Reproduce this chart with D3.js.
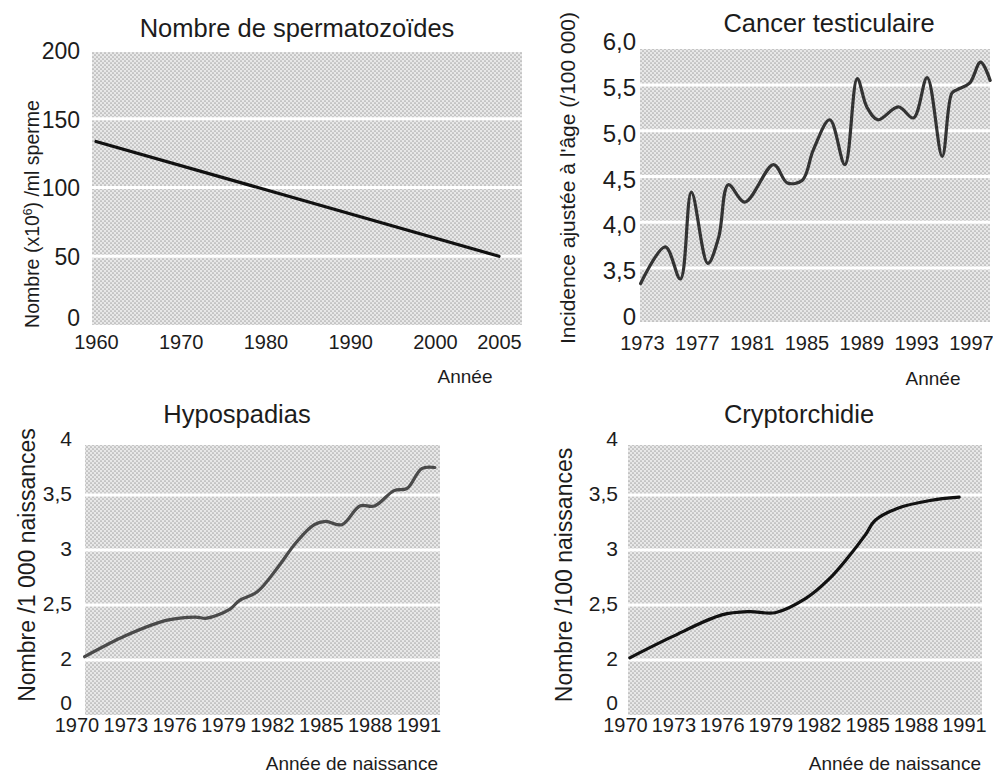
<!DOCTYPE html>
<html>
<head>
<meta charset="utf-8">
<script src="https://cdn.jsdelivr.net/npm/d3@7/dist/d3.min.js"></script>
<style>
  html, body { margin: 0; padding: 0; background: #fff; }
  svg { display: block; }
</style>
</head>
<body>
<svg id="chart" width="993" height="776"></svg>
<script>
// ---------- DATA ----------
// Panel 1 : Nombre de spermatozoïdes
const spermYears = [1960, 2005];
const spermCounts = [133.5, 50];
const spermXTicks = [1960, 1970, 1980, 1990, 2000, 2005];
const spermYTicks = [0, 50, 100, 150, 200];
const spermYLabels = ["0", "50", "100", "150", "200"];
const spermGrid = [50, 100, 150];

// Panel 2 : Cancer testiculaire (axis broken: bottom "0" stands for 3.0)
const cancerYears = [1972.9, 1974.7, 1975.8, 1976.6, 1977.8, 1978.6, 1979.3, 1980.5, 1982.6, 1983.6,
                     1984.7, 1985.5, 1986.7, 1987.8, 1988.7, 1989.4, 1990.2, 1991.7, 1992.8, 1993.8,
                     1994.9, 1995.6, 1996.0, 1996.9, 1997.7, 1998.4];
const cancerRates = [3.33, 3.73, 3.38, 4.33, 3.55, 3.84, 4.41, 4.22, 4.63, 4.43,
                     4.46, 4.79, 5.12, 4.63, 5.57, 5.26, 5.12, 5.26, 5.14, 5.58,
                     4.72, 5.41, 5.45, 5.52, 5.75, 5.55];
const cancerXTicks = [1973, 1977, 1981, 1985, 1989, 1993, 1997];
const cancerYTicks = [3, 3.5, 4, 4.5, 5, 5.5, 6];
const cancerYLabels = ["0", "3,5", "4,0", "4,5", "5,0", "5,5", "6,0"];
const cancerGrid = [3.5, 4, 4.5, 5, 5.5];

// Panel 3 : Hypospadias (axis broken: bottom "0" stands for 1.5)
const hypoYears = [1970.5, 1973.0, 1975.5, 1977.3, 1978.0, 1979.4, 1980.0, 1981.1, 1982.3, 1983.5,
                   1984.6, 1985.3, 1986.3, 1987.4, 1988.3, 1989.5, 1990.3, 1991.2, 1992.0];
const hypoRates = [2.03, 2.22, 2.36, 2.39, 2.38, 2.46, 2.54, 2.62, 2.83, 3.07,
                   3.23, 3.26, 3.23, 3.40, 3.40, 3.54, 3.56, 3.74, 3.75];

// Panel 4 : Cryptorchidie
const cryptoYears = [1970.3, 1972.9, 1976.0, 1977.7, 1979.3, 1981.2, 1982.6, 1983.8, 1984.9, 1985.5,
                     1986.9, 1988.9, 1990.7];
const cryptoRates = [2.02, 2.21, 2.41, 2.44, 2.43, 2.56, 2.73, 2.93, 3.14, 3.27,
                     3.38, 3.45, 3.48];

const birthXTicks = [1970, 1973, 1976, 1979, 1982, 1985, 1988, 1991];
const birthYTicks = [1.5, 2, 2.5, 3, 3.5, 4];
const birthYLabels = ["0", "2", "2,5", "3", "3,5", "4"];
const birthGrid = [2, 2.5, 3, 3.5];

// ---------- DRAWING ----------
const FONT = "'Liberation Sans', Arial, Helvetica, sans-serif";
const INK = "#1c1c1c";
const svg = d3.select("#chart");

const defs = svg.append("defs");
const pat = defs.append("pattern").attr("id", "stip")
  .attr("width", 4).attr("height", 4).attr("patternUnits", "userSpaceOnUse");
pat.append("rect").attr("width", 4).attr("height", 4).attr("fill", "#e8e8e8");
pat.append("circle").attr("cx", 1).attr("cy", 1).attr("r", 0.85).attr("fill", "#a8a8a8");
pat.append("circle").attr("cx", 3).attr("cy", 3).attr("r", 0.85).attr("fill", "#a8a8a8");

function panel(o) {
  const g = svg.append("g");
  g.append("rect")
    .attr("x", o.left).attr("y", o.top)
    .attr("width", o.right - o.left).attr("height", o.bottom - o.top)
    .attr("fill", "url(#stip)");

  g.selectAll("line.grid").data(o.grid).join("line")
    .attr("class", "grid")
    .attr("x1", o.left).attr("x2", o.right)
    .attr("y1", d => o.y(d)).attr("y2", d => o.y(d))
    .attr("stroke", "#fff").attr("stroke-width", 3.2);

  const pts = o.xs.map((x, i) => [x, o.ys[i]]);
  g.append("path").datum(pts)
    .attr("d", d3.line().x(d => o.x(d[0])).y(d => o.y(d[1])).curve(o.curve))
    .attr("fill", "none")
    .attr("stroke", o.color)
    .attr("stroke-width", o.width)
    .attr("stroke-linejoin", "round")
    .attr("stroke-linecap", "round");

  // y axis
  const ya = d3.axisLeft(o.y).tickValues(o.yTicks)
    .tickFormat((d, i) => o.yLabels[i]).tickSize(0).tickPadding(0);
  g.append("g")
    .attr("transform", `translate(${o.yLabelRight},${o.yShift})`)
    .call(ya)
    .call(s => s.select(".domain").remove())
    .attr("font-family", FONT).attr("font-size", o.yFont)
    .selectAll("text").attr("fill", INK).attr("dy", "0.36em")
    .attr("y", (d, i) => i === 0 ? o.bottomShift : 0);

  // x axis
  const xa = d3.axisBottom(o.x).tickValues(o.xTicks)
    .tickFormat(d3.format("d")).tickSize(0).tickPadding(0);
  g.append("g")
    .attr("transform", `translate(0,${o.xBaseline})`)
    .call(xa)
    .call(s => s.select(".domain").remove())
    .attr("font-family", FONT).attr("font-size", o.xFont)
    .selectAll("text").attr("fill", INK).attr("dy", 0).attr("y", 0);

  // title
  g.append("text")
    .attr("x", o.titleX).attr("y", o.titleY)
    .attr("text-anchor", "middle")
    .attr("font-family", FONT).attr("font-size", 25.5)
    .attr("fill", INK)
    .text(o.title);

  // y title
  const yt = g.append("text")
    .attr("transform", `translate(${o.yTitleX},${o.yTitleY}) rotate(-90)`)
    .attr("text-anchor", "middle")
    .attr("font-family", FONT).attr("font-size", o.yTitleFont)
    .attr("fill", INK);
  o.yTitle.forEach(part => {
    const t = yt.append("tspan").text(part.t);
    if (part.sup) t.attr("baseline-shift", "super").attr("font-size", o.yTitleFont * 0.62);
  });

  // x title
  g.append("text")
    .attr("x", o.xTitleX).attr("y", o.xTitleY)
    .attr("text-anchor", o.xTitleAnchor)
    .attr("font-family", FONT).attr("font-size", 19)
    .attr("fill", INK)
    .text(o.xTitle);
}

// Panel 1
panel({
  left: 92, right: 522, top: 52, bottom: 325,
  x: d3.scaleLinear().domain([1960, 2000, 2005]).range([96, 435, 499]),
  y: d3.scaleLinear().domain([0, 200]).range([325, 50]),
  xs: spermYears, ys: spermCounts,
  grid: spermGrid, yTicks: spermYTicks, yLabels: spermYLabels, xTicks: spermXTicks,
  curve: d3.curveLinear, color: "#111", width: 3.2,
  yLabelRight: 80, yShift: 0, bottomShift: -7.5, yFont: 23, xBaseline: 349, xFont: 20,
  title: "Nombre de spermatozoïdes", titleX: 297, titleY: 37,
  yTitle: [{t: "Nombre (x10"}, {t: "6", sup: true}, {t: ") /ml sperme"}],
  yTitleX: 39, yTitleY: 214, yTitleFont: 19.5,
  xTitle: "Année", xTitleX: 465, xTitleY: 383, xTitleAnchor: "middle"
});

// Panel 2
panel({
  left: 640, right: 990, top: 49, bottom: 322,
  x: d3.scaleLinear().domain([1973, 1997]).range([642, 971]),
  y: d3.scaleLinear().domain([3.5, 5.5]).range([268, 85]),
  xs: cancerYears, ys: cancerRates,
  grid: cancerGrid, yTicks: cancerYTicks, yLabels: cancerYLabels, xTicks: cancerXTicks,
  curve: d3.curveCatmullRom.alpha(0.5), color: "#333", width: 3.2,
  yLabelRight: 636, yShift: 2, bottomShift: 0, yFont: 24, xBaseline: 350, xFont: 20,
  title: "Cancer testiculaire", titleX: 829, titleY: 32,
  yTitle: [{t: "Incidence ajustée à l'âge (/100 000)"}],
  yTitleX: 575, yTitleY: 178, yTitleFont: 21,
  xTitle: "Année", xTitleX: 933, xTitleY: 385, xTitleAnchor: "middle"
});

// Panel 3
panel({
  left: 85, right: 440, top: 445, bottom: 715,
  x: d3.scaleLinear().domain([1970, 1991]).range([76.5, 418.5]),
  y: d3.scaleLinear().domain([1.5, 4]).range([715, 440]),
  xs: hypoYears, ys: hypoRates,
  grid: birthGrid, yTicks: birthYTicks, yLabels: birthYLabels, xTicks: birthXTicks,
  curve: d3.curveCatmullRom.alpha(0.5), color: "#4a4a4a", width: 3.2,
  yLabelRight: 72, yShift: -2, bottomShift: -11.5, yFont: 21, xBaseline: 732, xFont: 20,
  title: "Hypospadias", titleX: 237, titleY: 423,
  yTitle: [{t: "Nombre /1 000 naissances"}],
  yTitleX: 35, yTitleY: 565, yTitleFont: 23,
  xTitle: "Année de naissance", xTitleX: 438, xTitleY: 770, xTitleAnchor: "end"
});

// Panel 4
panel({
  left: 628, right: 982, top: 445, bottom: 715,
  x: d3.scaleLinear().domain([1970, 1991]).range([625, 964]),
  y: d3.scaleLinear().domain([1.5, 4]).range([715, 440]),
  xs: cryptoYears, ys: cryptoRates,
  grid: birthGrid, yTicks: birthYTicks, yLabels: birthYLabels, xTicks: birthXTicks,
  curve: d3.curveCatmullRom.alpha(0.5), color: "#111", width: 3.2,
  yLabelRight: 618, yShift: -2, bottomShift: -11.5, yFont: 21, xBaseline: 732, xFont: 20,
  title: "Cryptorchidie", titleX: 799, titleY: 423,
  yTitle: [{t: "Nombre /100 naissances"}],
  yTitleX: 572, yTitleY: 575, yTitleFont: 23,
  xTitle: "Année de naissance", xTitleX: 981, xTitleY: 770, xTitleAnchor: "end"
});
</script>
</body>
</html>
